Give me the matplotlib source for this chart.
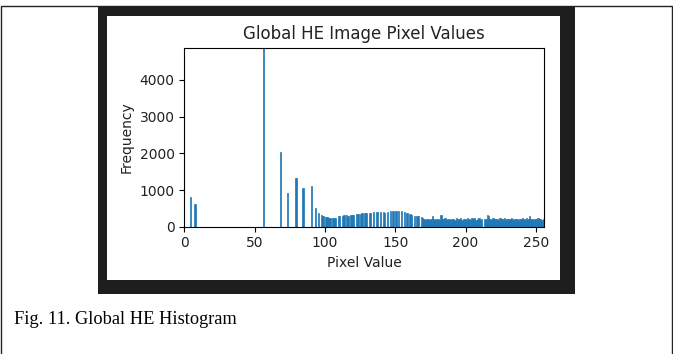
import numpy as np
import matplotlib
matplotlib.use("Agg")
from matplotlib import pyplot as plt
from matplotlib.patches import Rectangle

W, H = 673, 354

# occupied bins of the equalized image histogram and their counts
lowBins = [4, 7, 56, 68, 73, 79, 84, 90, 93]
lowCounts = [820, 630, 5400, 2045, 910, 1320, 1045, 1110, 520]

midBins = [95, 97, 98, 100, 101, 102, 103, 105, 106, 107, 109, 110, 112, 113, 115, 116,
           118, 119, 120, 122, 123, 125, 126, 128, 129, 131, 132, 134, 136, 137, 139, 141,
           142, 144, 146, 148, 150, 152, 154, 156, 158, 160, 161, 163, 165, 166, 168, 169]
midCounts = [370, 330, 290, 275, 260, 250, 240, 250, 245, 240, 280, 285, 300, 310, 320, 300,
             330, 320, 310, 345, 350, 335, 360, 370, 365, 380, 375, 390, 395, 400, 405, 395,
             385, 400, 420, 430, 425, 420, 415, 400, 370, 345, 320, 300, 290, 280, 265, 240]

# 170..255, every bin filled
highCounts = [210, 190, 200, 205, 195, 215, 300, 200, 190, 220, 205, 195, 310, 210, 200, 230,
              190, 200, 215, 185, 200, 220, 195, 230, 210, 200, 235, 190, 215, 205, 180, 250,
              210, 195, 230, 200, 240, 190, 210, 225, 195, 205, 0, 200, 210, 330, 280, 210,
              190, 230, 200, 215, 205, 195, 225, 200, 210, 235, 190, 205, 215, 200, 240, 195,
              210, 205, 220, 190, 215, 200, 225, 205, 195, 230, 210, 290, 200, 215, 190, 220,
              205, 230, 200, 210, 185, 200]
highBins = list(range(170, 256))

bins = lowBins + midBins + highBins
counts = lowCounts + midCounts + highCounts

fig = plt.figure(figsize=(W/100, H/100), dpi=100)

def box(x0, y0, x1, y1, **kw):
    # pixel box, y measured from the top
    r = Rectangle((x0/W, 1-y1/H), (x1-x0)/W, (y1-y0)/H, transform=fig.transFigure, **kw)
    fig.add_artist(r)

box(0.5, 6, 672, 360, fill=False, edgecolor='#222222', linewidth=1.0, zorder=-12)
box(98, 6, 575, 294, facecolor='#1e1e1e', edgecolor='none', zorder=-11)
box(107, 16, 560, 280, facecolor='white', edgecolor='none', zorder=-10)

ax = fig.add_axes([184.3/W, 1-226.7/H, 360/W, 179/H])
ax.bar(bins, counts, width=1.0, align='edge', color='#1f77b4',
       edgecolor='#1f77b4', linewidth=0.5)
ax.set_xlim(0, 256)
ax.set_ylim(0, 4880)
ax.set_title("Global HE Image Pixel Values", fontsize=12, color='#222222')
ax.set_xlabel("Pixel Value", color='#222222')
ax.set_ylabel("Frequency", color='#222222')
ax.tick_params(labelcolor='#222222')

fig.text(14/W, 1-324.3/H, "Fig. 11. Global HE Histogram", family="Liberation Serif",
         fontsize=13.2, va='baseline', ha='left')

fig.savefig("out.png", dpi=100)
